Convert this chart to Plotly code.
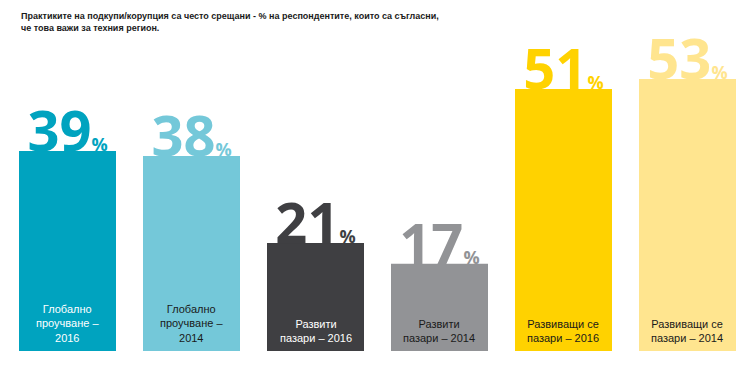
import plotly.graph_objects as go

categories = ["Глобално<br>проучване –<br>2016", "Глобално<br>проучване –<br>2014",
              "Развити<br>пазари – 2016", "Развити<br>пазари – 2014",
              "Развиващи се<br>пазари – 2016", "Развиващи се<br>пазари – 2014"]
values = [39, 38, 21, 17, 51, 53]
colors = ["#00A3BF", "#74C8D9", "#3F3F42", "#929396", "#FFD200", "#FFE58F"]
label_colors = ["#FFFFFF", "#1A1A1A", "#FFFFFF", "#1A1A1A", "#1A1A1A", "#1A1A1A"]
title = ("Практиките на подкупи/корупция са често срещани - % на респондентите, които са съгласни,"
         "<br>че това важи за техния регион.")

xs = list(range(len(values)))
bw = 0.782

fig = go.Figure()
fig.add_trace(go.Bar(x=xs, y=values, width=bw, marker=dict(color=colors, line=dict(width=0)),
                     hoverinfo="skip", showlegend=False))
fig.add_trace(go.Scatter(
    x=xs, y=[v - 2.75 for v in values], mode="text",
    text=[f"{v}<span style='font-size:18px'>%</span>" for v in values],
    textposition="top center",
    textfont=dict(family="Open Sans", size=56, color=colors, weight=700),
    hoverinfo="skip", showlegend=False, cliponaxis=False))

shapes = []
for x, v, c in zip(xs, values, colors):
    shapes.append(dict(type="rect", xref="x", yref="y", x0=x - bw / 2, x1=x + bw / 2, y0=0, y1=v,
                       fillcolor=c, line=dict(width=0), layer="above"))

annotations = []
for x, cat, lc in zip(xs, categories, label_colors):
    annotations.append(dict(x=x, y=0, xref="x", yref="y", text=cat, showarrow=False,
                            yanchor="bottom", yshift=5,
                            font=dict(family="Liberation Sans", size=11, color=lc), align="center"))
annotations.append(dict(x=11 / 754, y=1 - 1 / 365, xref="paper", yref="paper", text=title,
                        showarrow=False, xanchor="left", yanchor="top", align="left",
                        font=dict(family="Liberation Sans", size=9, color="#1A1A1A", weight=700)))

fig.update_layout(
    width=754, height=365, margin=dict(l=0, r=0, t=0, b=0),
    paper_bgcolor="white", plot_bgcolor="white",
    xaxis=dict(range=[-0.48, 5.601], visible=False, fixedrange=True),
    yaxis=dict(range=[-4.29, 66.86], visible=False, fixedrange=True),
    shapes=shapes, annotations=annotations, bargap=0,
)
fig.write_html("out.html")
